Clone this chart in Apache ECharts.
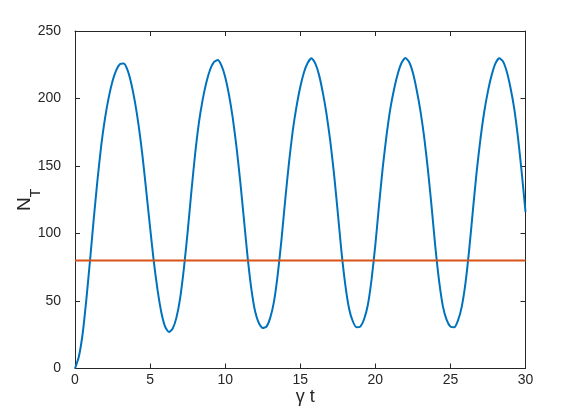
<!DOCTYPE html>
<html><head><meta charset="utf-8">
<script src="https://cdn.jsdelivr.net/npm/echarts@6/dist/echarts.min.js"></script>
<style>html,body{margin:0;padding:0;background:#fff}#c{width:581px;height:415px}</style>
</head><body><div id="c"></div>
<script>
// gamma*t sample times
const times = [
  0, 0.25, 0.5, 0.75, 1, 1.25, 1.5, 1.75, 2, 2.25, 2.5, 2.75,
  3, 3.25, 3.5, 3.75, 4, 4.25, 4.5, 4.75, 5, 5.25, 5.5, 5.75,
  6, 6.25, 6.5, 6.75, 7, 7.25, 7.5, 7.75, 8, 8.25, 8.5, 8.75,
  9, 9.25, 9.5, 9.75, 10, 10.25, 10.5, 10.75, 11, 11.25, 11.5, 11.75,
  12, 12.25, 12.5, 12.75, 13, 13.25, 13.5, 13.75, 14, 14.25, 14.5, 14.75,
  15, 15.25, 15.5, 15.75, 16, 16.25, 16.5, 16.75, 17, 17.25, 17.5, 17.75,
  18, 18.25, 18.5, 18.75, 19, 19.25, 19.5, 19.75, 20, 20.25, 20.5, 20.75,
  21, 21.25, 21.5, 21.75, 22, 22.25, 22.5, 22.75, 23, 23.25, 23.5, 23.75,
  24, 24.25, 24.5, 24.75, 25, 25.25, 25.5, 25.75, 26, 26.25, 26.5, 26.75,
  27, 27.25, 27.5, 27.75, 28, 28.25, 28.5, 28.75, 29, 29.25, 29.5, 29.75,
  30
];
// N_T
const nT = [
  0, 8.5, 25, 50.5, 80, 111, 140, 165.5, 185.5, 201, 213, 221,
  225.5, 226, 221, 211, 197, 179, 157, 131, 104.5, 79, 58, 41.5,
  31, 27, 29.5, 37.5, 52, 74, 101, 131, 159, 182, 199, 212,
  221.5, 227, 228.5, 224.5, 216, 203, 186, 164.5, 139, 110.5, 82, 58.5,
  42, 33.5, 30, 31, 37.5, 49.5, 69.5, 95.5, 125, 152.5, 176, 194,
  208.5, 219.5, 226.5, 229.8, 226, 217.5, 204.5, 188.5, 168.5, 144, 115.5, 86,
  62, 44.5, 35, 30.5, 31, 36.5, 47, 66, 91.5, 121.5, 149.5, 173,
  192.5, 207, 218.5, 226.5, 230, 227, 219, 206.5, 191, 171.5, 147.5, 119.5,
  89.5, 64.5, 46, 36, 31, 30.5, 35.5, 45.5, 63, 88, 117.5, 146,
  170, 190, 205.5, 217.5, 226, 229.8, 227.5, 220, 208, 192.5, 171, 145,
  116
];
// horizontal reference level
const refTimes = [0, 30];
const refLevel = [80, 80];

const xMin = 0, xMax = 30, xStep = 5;
const yMin = 0, yMax = 250, yStep = 50;

const ink = '#262626';
const font = '"Liberation Sans", Arial, Helvetica, sans-serif';

function axisBase(extra) {
  return Object.assign({
    type: 'value',
    axisLine: { show: true, onZero: false, lineStyle: { color: ink, width: 1 } },
    axisTick: { show: true, inside: true, length: 5, lineStyle: { color: ink, width: 1 } },
    splitLine: { show: false },
    axisLabel: { show: false }
  }, extra);
}

const chart = echarts.init(document.getElementById('c'), null, { renderer: 'canvas' });
chart.setOption({
  backgroundColor: '#ffffff',
  animation: false,
  grid: { left: 75, top: 31, width: 450.5, height: 337.5, containLabel: false, outerBoundsMode: 'none' },
  xAxis: [
    axisBase({
      min: xMin, max: xMax, interval: xStep, position: 'bottom',
      axisLabel: { show: true, color: ink, fontSize: 14, fontFamily: font, margin: 5 },
      name: 'γ t', nameLocation: 'middle', nameGap: 20, nameMoveOverlap: false,
      nameTextStyle: { color: ink, fontSize: 18, fontFamily: font, padding: [0, 0, 0, 10] }
    }),
    axisBase({ min: xMin, max: xMax, interval: xStep, position: 'top' })
  ],
  yAxis: [
    axisBase({
      min: yMin, max: yMax, interval: yStep, position: 'left',
      axisLabel: { show: true, color: ink, fontSize: 14, fontFamily: font, margin: 14 },
      name: '{n|N}{s|T}', nameLocation: 'middle', nameGap: 38, nameRotate: 90, nameMoveOverlap: false,
      nameTextStyle: {
        align: 'center', verticalAlign: 'bottom',
        rich: {
          n: { fontSize: 19, fontFamily: font, color: ink, verticalAlign: 'top', lineHeight: 22 },
          s: { fontSize: 14, fontFamily: font, color: ink, verticalAlign: 'top', lineHeight: 16, padding: [14, 0, 0, 0] }
        }
      }
    }),
    axisBase({ min: yMin, max: yMax, interval: yStep, position: 'right' })
  ],
  series: [
    {
      type: 'line', xAxisIndex: 0, yAxisIndex: 0,
      data: times.map((t, i) => [t, nT[i]]),
      showSymbol: false, smooth: 0.2,
      lineStyle: { color: '#0072BD', width: 2 },
      z: 3
    },
    {
      type: 'line', xAxisIndex: 0, yAxisIndex: 0,
      data: refTimes.map((t, i) => [t, refLevel[i]]),
      showSymbol: false,
      lineStyle: { color: '#D95319', width: 2 },
      z: 4
    }
  ]
});
</script>
</body></html>
